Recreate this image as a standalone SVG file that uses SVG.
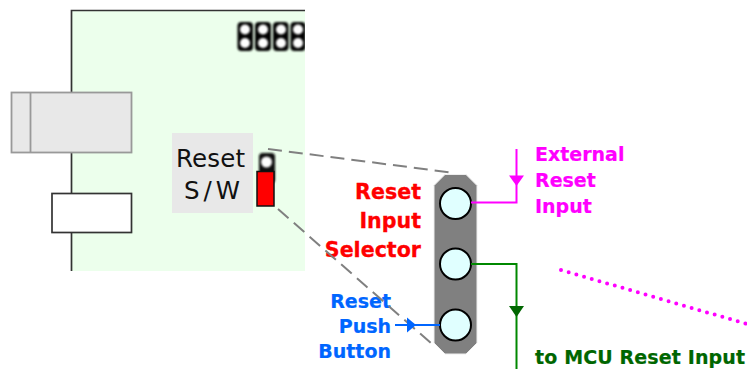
<svg xmlns="http://www.w3.org/2000/svg" width="747" height="369" viewBox="0 0 747 369">
<style>
text{font-family:"DejaVu Sans",Verdana,sans-serif}
.r{font-weight:bold;font-size:20.6px;text-anchor:end;stroke:#f00;stroke-width:.3}
.b{font-weight:bold;font-size:19px;text-anchor:end;stroke:#06f;stroke-width:.2}
.l{font-weight:bold;font-size:19px;stroke-width:.2}
.hole{fill:#e0ffff;stroke:#000;stroke-width:2}
.dash{fill:none;stroke:#808080;stroke-width:2;stroke-dasharray:14 7}
</style>
<defs><filter id="s" x="-30%" y="-30%" width="160%" height="160%"><feGaussianBlur stdDeviation="0.9"/></filter></defs>
<g id="board">
<rect x="71.500" y="10.500" width="233.500" height="260.500" fill="#ecffec"/>
<path d="M305 10.500H71.500V271" fill="none" stroke="#333" stroke-width="1.700"/>
</g>
<g id="header">
<g fill="#000" filter="url(#s)"><rect x="237.500" y="22" width="15.500" height="29" rx="4"/><rect x="255" y="22" width="16" height="29" rx="4"/><rect x="273" y="22" width="15.500" height="29" rx="4"/><rect x="290.500" y="22" width="15" height="29" rx="4"/></g>
<g fill="#fff" filter="url(#s)"><circle cx="245" cy="29.500" r="5"/><circle cx="245" cy="43" r="5"/><circle cx="263" cy="29.500" r="5"/><circle cx="263" cy="43" r="5"/><circle cx="281" cy="29.500" r="5"/><circle cx="281" cy="43" r="5"/><circle cx="298" cy="29.500" r="5"/><circle cx="298" cy="43" r="5"/></g>
<rect x="305" y="15" width="6" height="40" fill="#fff"/>
</g>
<g id="connector-grey"><rect x="11.500" y="92.500" width="120" height="60" fill="#e8e8e8" stroke="#999" stroke-width="1.800"/><path d="M30.500 92.500V152.500" stroke="#999" stroke-width="1.800"/></g>
<g id="connector-white"><rect x="52" y="193.500" width="79.500" height="39" fill="#fff" stroke="#333" stroke-width="1.700"/></g>
<g id="reset-sw"><rect x="172" y="133" width="81" height="80" fill="#e8e8e8"/>
<text x="176" y="167" font-size="24.500" fill="#111" textLength="69">Reset</text>
<text x="184" y="199" font-size="24.500" fill="#111" textLength="56">S/W</text></g>
<g id="jumper"><rect x="259" y="153" width="16" height="30" rx="3.500" fill="#111" filter="url(#s)"/><circle cx="266.500" cy="162" r="5.500" fill="#fff" filter="url(#s)"/><rect x="257" y="171.500" width="17" height="34.500" fill="#f00" stroke="#111" stroke-width="1.500"/></g>
<g id="selector"><path d="M445 174.500H466L477 185.500V343L466 354H445L434 343V185.500Z" fill="#808080" stroke="#eee" stroke-width="1"/>
<circle class="hole" cx="455.500" cy="203.500" r="15.500"/><circle class="hole" cx="455.500" cy="264" r="15.500"/><circle class="hole" cx="455.500" cy="325" r="15.500"/></g>
<g id="labels">
<text class="r" x="421" y="199" fill="#f00">Reset</text>
<text class="r" x="421" y="228" fill="#f00">Input</text>
<text class="r" x="421" y="257" fill="#f00">Selector</text>
<text class="b" x="391" y="308" fill="#06f">Reset</text>
<text class="b" x="391" y="333" fill="#06f">Push</text>
<text class="b" x="391" y="358" fill="#06f">Button</text>
<text class="l" x="535" y="161" fill="#f0f" stroke="#f0f">External</text>
<text class="l" x="535" y="187" fill="#f0f" stroke="#f0f">Reset</text>
<text class="l" x="535" y="213" fill="#f0f" stroke="#f0f">Input</text>
<text class="l" x="535" y="364" fill="#060" stroke="#060" textLength="210">to MCU Reset Input</text>
</g>
<g id="connectors">
<path class="dash" d="M268 149L455 173"/>
<path class="dash" d="M278 209L432 344"/>
<path d="M471 202.500H516.500V149" fill="none" stroke="#f0f" stroke-width="2"/><path d="M509 175.500H524L516.500 186Z" fill="#f0f"/>
<path d="M471 264H516.500V369" fill="none" stroke="#080" stroke-width="2"/><path d="M509 306H524L516.500 317Z" fill="#060"/>
<path d="M395 325H440" fill="none" stroke="#06f" stroke-width="2"/><path d="M407 317.500V332.500L416 325Z" fill="#06f"/>
<path d="M561 270L747 324" fill="none" stroke="#f0f" stroke-width="4" stroke-linecap="round" stroke-dasharray="0 8"/>
</g>
</svg>
